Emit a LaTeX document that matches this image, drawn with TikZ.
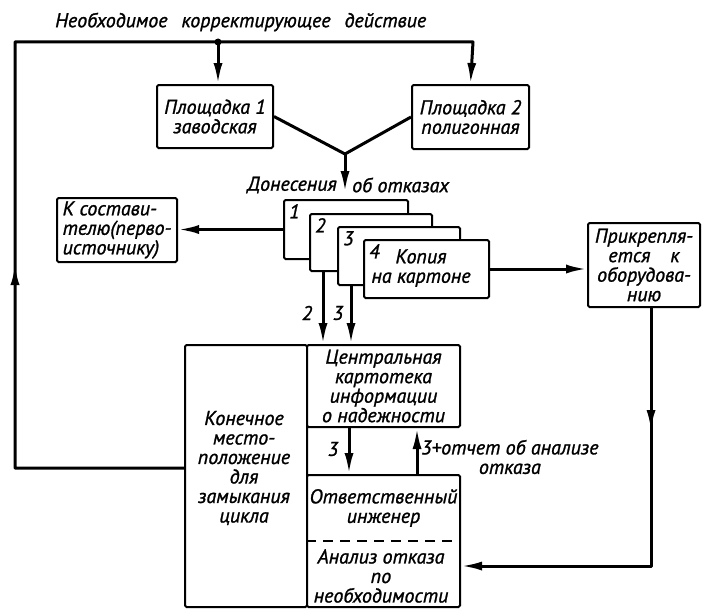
\documentclass[tikz,border=0pt]{standalone}
\usepackage{fontspec}
\setmainfont{PT Sans}[ItalicFeatures={FakeBold=1.2}]
\usetikzlibrary{arrows.meta,decorations.markings}
\tikzset{
  box/.style={draw, line width=2pt, rounded corners=1.5pt, fill=white, inner sep=2pt, align=center},
  card/.style={box, anchor=north west},
  txt/.style={inner sep=0pt, align=center},
  wire/.style={line width=3pt, line join=round},
  arr/.style={wire, -{Latex[length=21pt,width=9pt]}},
  midarrow/.style={postaction={decorate}, decoration={markings, mark=at position #1 with {\arrow{Latex[length=21pt,width=9pt]}}}},
}
\begin{document}
\begin{tikzpicture}[x=1pt, y=-1pt, font=\itshape\fontsize{20}{19.5}\selectfont]
\useasboundingbox (0,0) rectangle (706,610);

\node[txt, anchor=west] (title) at (55,22) {Необходимое\hspace{14pt}корректирующее\hspace{14pt}действие};
\node[box, minimum width=116pt, minimum height=63pt] (plo1) at (215,116.5) {Площадка 1\\заводская};
\node[box, minimum width=117pt, minimum height=64pt] (plo2) at (470.5,117) {Площадка 2\\полигонная};
\coordinate (dot) at (218,42);
\coordinate (topleft) at (15,42);
\coordinate (topright) at (473,42);
\coordinate (lowleft) at (15,468);
\coordinate (join) at (345,154);
\coordinate (reptip) at (345,192);
\node[txt, anchor=east] (repa) at (337,185) {Донесения};
\node[txt, anchor=west] (repb) at (352,185) {об отказах};

% cards
\node[card, minimum width=124pt, minimum height=59pt] (card1) at (283,199) {};
\node[card, minimum width=122pt, minimum height=57pt] (card2) at (309,213) {};
\node[card, minimum width=122pt, minimum height=58pt] (card3) at (337,226) {};
\node[card, minimum width=125pt, minimum height=58pt] (card4) at (363,239) {};
\node[txt, anchor=north west] (n1) at ([shift={(6pt,-5pt)}]card1.north west) {1};
\node[txt, anchor=north west] (n2) at ([shift={(6pt,-5pt)}]card2.north west) {2};
\node[txt, anchor=north west] (n3) at ([shift={(6pt,-5pt)}]card3.north west) {3};
\node[txt, anchor=north west] (n4) at ([shift={(6pt,-5pt)}]card4.north west) {4};
\node[txt] (copy) at (421,268) {Копия\\на картоне};

\node[box, minimum width=120pt, minimum height=64pt, align=left] (sost) at (117,230) {К состави-\\телю(перво-\\источнику)};
\node[box, minimum width=112pt, minimum height=84pt] (prikr) at (644,265) {Прикрепля-\\ется\quad к\\оборудова-\\нию};

\node[box, minimum width=122pt, minimum height=262pt] (konech) at (246,476) {};
\node[txt] (konechtext) at (244,468) {Конечное\\место-\\положение\\для\\замыкания\\цикла};
\node[box, minimum width=153pt, minimum height=82pt] (central) at (383.5,386) {Центральная\\картотека\\информации\\о надежности};
\node[box, minimum width=153pt, minimum height=132pt] (otv) at (383.5,541) {};
\node[txt] (otvtext) at (383.5,508) {Ответственный\\инженер};
\node[txt] (analiz) at (381,576) {Анализ отказа\\по\\необходимости};
\draw[line width=1.5pt, dash pattern=on 10pt off 7pt] (otv.west) -- (otv.east);

% feedback loop
\draw[arr, midarrow=373pt] (konech.west |- lowleft) -- (lowleft) -- (topleft) -- (topright) -- (plo2.north);
\fill (dot) circle (3.5pt);
\draw[arr] (dot) -- (dot |- plo1.north);
\draw[wire] (plo1.east) -- (join) -- (plo2.west);
\draw[arr] (join) -- (reptip);

\draw[arr] (card1.west) -- (card1.west -| sost.east);
\draw[arr] (card4.east) -- (card4.east -| prikr.west);

\coordinate (out2) at ([xshift=14pt]card2.south west);
\coordinate (out3) at ([xshift=14pt]card3.south west);
\draw[arr] (out2) -- (out2 |- central.north);
\draw[arr] (out3) -- (out3 |- central.north);
\node[txt] (lab2) at (307,313) {2};
\node[txt] (lab3) at (338,313) {3};

\coordinate (dn) at (349,0);
\coordinate (up) at (417,0);
\draw[arr] (dn |- central.south) -- (dn |- otv.north);
\draw[arr] (up |- otv.north) -- (up |- central.south);
\node[txt] (lab3b) at (333,449) {3};
\node[txt, anchor=west] (report) at (421,457) {3+отчет об анализе\\отказа};

\coordinate (rv) at (651,566);
\draw[arr, midarrow=123pt] (rv |- prikr.south) -- (rv) -- (rv -| otv.east);
\end{tikzpicture}
\end{document}
